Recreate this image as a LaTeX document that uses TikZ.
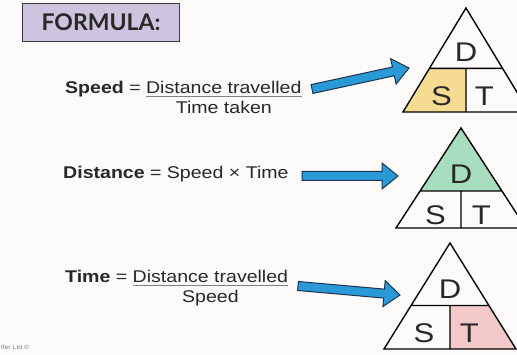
\documentclass[tikz,border=0pt]{standalone}
\usepackage{fontspec}
\setmainfont{Liberation Sans}[FakeStretch=1.15]
\newfontfamily\headfont{Lato}
\usepackage{tikz}
\usetikzlibrary{positioning, calc}
\definecolor{boxlilac}{RGB}{205, 196, 224}
\definecolor{boxedge}{RGB}{60, 58, 66}
\definecolor{arrowblue}{RGB}{42, 154, 214}
\definecolor{arrowedge}{RGB}{30, 50, 80}
\definecolor{speedyellow}{RGB}{246, 220, 146}
\definecolor{distgreen}{RGB}{168, 220, 190}
\definecolor{timepink}{RGB}{242, 200, 200}
\definecolor{inkgray}{RGB}{40, 40, 40}
\definecolor{paper}{RGB}{253, 251, 249}

\begin{document}
\begin{tikzpicture}[x=1pt, y=-1pt, font=\fontsize{17}{20}\selectfont, text=inkgray,
  lab/.style={inner sep=0pt, anchor=base west},
  letter/.style={font=\fontsize{27}{30}\selectfont, inner sep=0pt},
  tri/.style={draw=black, line width=1.4pt, line join=miter},
  blockarrow/.style={draw=arrowedge, fill=arrowblue, line width=1pt, line join=miter}]
  \useasboundingbox (0,0) rectangle (517,355);
  \clip (0,0) rectangle (517,355);
  \fill[paper] (0,0) rectangle (517,355);

  % Title box
  \node[draw=boxedge, fill=boxlilac, line width=1.6pt, minimum width=157pt,
        minimum height=38pt, inner sep=0pt,
        font=\headfont\bfseries\fontsize{23}{26}\selectfont] (title) at (101,22.5) {FORMULA:};

  % Formulas
  \node[lab] (sp) at (65,94) {\textbf{Speed} =};
  \node[inner sep=0pt, base right=5pt of sp] (spnum) {Distance travelled};
  \node[inner sep=0pt, below=7pt of spnum] (spden) {Time taken};
  \draw[gray, line width=0.6pt] ([yshift=-2pt]spnum.base west) -- ([yshift=-2pt]spnum.base east);

  \node[lab] (di) at (63,179) {\textbf{Distance} = Speed × Time};

  \node[lab] (ti) at (65,283) {\textbf{Time} =};
  \node[inner sep=0pt, base right=5pt of ti] (tinum) {Distance travelled};
  \node[inner sep=0pt, below=7pt of tinum] (tiden) {Speed};
  \draw[gray, line width=0.6pt] ([yshift=-2pt]tinum.base west) -- ([yshift=-2pt]tinum.base east);

  % Triangles
  \foreach \i/\ax/\ay/\hw/\h/\f/\p/\q/\r/\s/\col in {
      1/466/8/63/104/0.58/ml/m/b/l/speedyellow,
      2/461/128/65/100/0.63/a/ml/mr/mr/distgreen,
      3/450/243/66/106/0.59/m/mr/r/b/timepink}{
    \coordinate (a\i) at (\ax,\ay);
    \coordinate (l\i) at (\ax-\hw,\ay+\h);
    \coordinate (r\i) at (\ax+\hw,\ay+\h);
    \coordinate (b\i) at (\ax,\ay+\h);
    \coordinate (ml\i) at ($(a\i)!\f!(l\i)$);
    \coordinate (mr\i) at ($(a\i)!\f!(r\i)$);
    \coordinate (m\i) at ($(ml\i)!0.5!(mr\i)$);
    \fill[\col] (\p\i) -- (\q\i) -- (\r\i) -- (\s\i) -- cycle;
    \draw[tri] (a\i) -- (l\i) -- (r\i) -- cycle (ml\i) -- (mr\i) (m\i) -- (b\i);
    \node[letter] (dl\i) at ($(a\i)!0.74!(m\i)$) {D};
    \node[letter] (sl\i) at ($(l\i)!0.5!(m\i)+(7,6)$) {S};
    \node[letter] (tl\i) at ($(b\i)!0.5!(mr\i)+(0,6)$) {T};
  }

  % Arrows
  \coordinate (tail1) at (312,89);  \coordinate (tip1) at (409,68);
  \coordinate (tail2) at (302,176); \coordinate (tip2) at (398,176);
  \coordinate (tail3) at (298,286); \coordinate (tip3) at (400,295);
  \foreach \k in {1,2,3}{
    \coordinate (hb\k) at ($(tip\k)!16pt!(tail\k)$);
    \draw[blockarrow] ($(tail\k)!4.5pt!90:(tip\k)$) -- ($(hb\k)!4.5pt!90:(tip\k)$)
      -- ($(hb\k)!13pt!90:(tip\k)$) -- (tip\k) -- ($(hb\k)!13pt!-90:(tip\k)$)
      -- ($(hb\k)!4.5pt!-90:(tip\k)$) -- ($(tail\k)!4.5pt!-90:(tip\k)$) -- cycle;
  }

  \node[lab, font=\fontsize{6}{7}\selectfont, text=gray] (credit) at (1,350) {lfer Ltd ©};
\end{tikzpicture}
\end{document}
